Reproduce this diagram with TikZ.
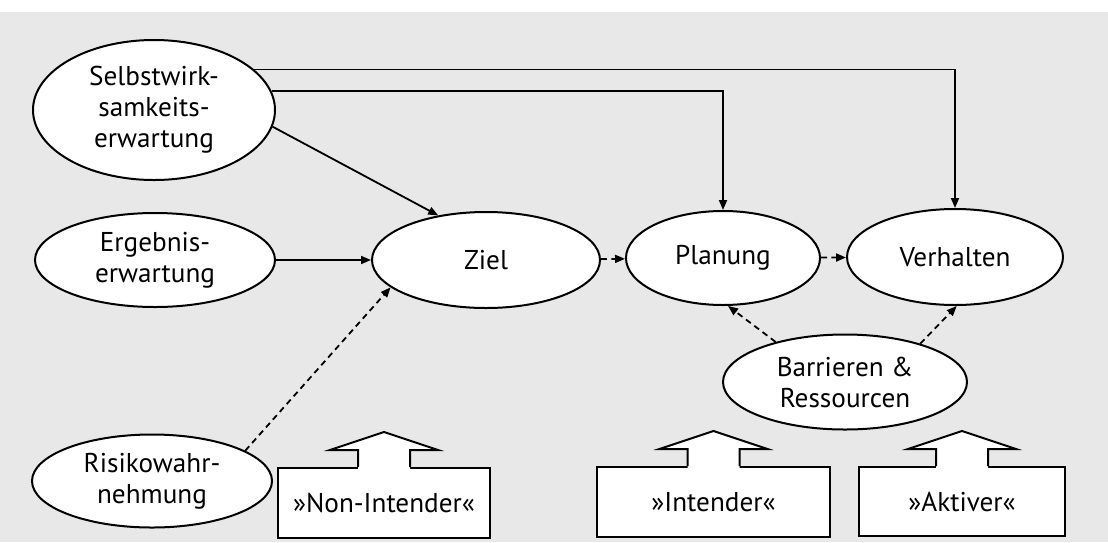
\documentclass[tikz,border=0pt]{standalone}
\usepackage{fontspec}
\setmainfont{PT Sans}
\usetikzlibrary{arrows.meta, calc, positioning, shapes.geometric}

\tikzset{
  oval/.style={draw, ellipse, fill=white, line width=1pt, inner sep=0pt,
               align=center, font=\fontsize{13.6}{15.5}\selectfont},
  typebox/.style={draw, rectangle, fill=white, line width=1pt, inner sep=0pt,
                  font=\fontsize{13.6}{15.5}\selectfont},
  arr/.style={line width=0.9pt, -{Triangle[length=5pt, width=4pt]}},
  dasharr/.style={arr, dash pattern=on 3pt off 2.2pt},
}

\begin{document}
\begin{tikzpicture}[x=0.5pt, y=-0.5pt]
    \useasboundingbox (0, 0) rectangle (1108, 542);
    \fill[white] (0, 0) rectangle (1108, 542);
    \fill[black!9] (0, 12) rectangle (1108, 542);

    % determinants
    \node[oval, minimum width=121pt, minimum height=70pt] (selbst) at (154, 110) {Selbstwirk-\\samkeits-\\erwartung};
    \node[oval, minimum width=120pt, minimum height=47pt] (ergebnis) at (155, 260) {Ergebnis-\\erwartung};
    \node[oval, minimum width=120pt, minimum height=46.5pt] (risiko) at (152, 481) {Risikowahr-\\nehmung};

    % stages
    \node[oval, minimum width=114pt, minimum height=48pt] (ziel) at (486, 260) {Ziel};
    \node[oval, minimum width=97pt, minimum height=47pt] (planung) at (723, 258) {Planung};
    \node[oval, minimum width=108pt, minimum height=48pt] (verhalten) at (955, 257) {Verhalten};
    \node[oval, minimum width=122pt, minimum height=47.5pt] (barrieren) at (845, 382) {Barrieren \&\\Ressourcen};

    % groups
    \node[typebox, minimum width=106pt, minimum height=35pt] (nonint) at (384, 503) {»Non-Intender«};
    \node[typebox, minimum width=116.5pt, minimum height=35pt] (intender) at (713.5, 502) {»Intender«};
    \node[typebox, minimum width=103pt, minimum height=34.5pt] (aktiver) at (962, 501.5) {»Aktiver«};

    \foreach \b in {nonint, intender, aktiver} {
        \fill[white] ($(\b.north)+(-26, 2)$) -- ++(0, -19) -- ++(-28, 0) -- ($(\b.north)+(0, -35)$)
            -- ($(\b.north)+(54, -17)$) -- ++(-28, 0) -- ++(0, 19) -- cycle;
        \draw[line width=1pt, line join=miter] ($(\b.north)+(-26, 0)$) -- ++(0, -17) -- ++(-28, 0) -- ($(\b.north)+(0, -35)$)
            -- ($(\b.north)+(54, -17)$) -- ++(-28, 0) -- ++(0, 17);
    }

    \draw[arr] (selbst.22) -| (verhalten.north);
    \draw[arr] (selbst.9) -| (planung.north);
    \draw[arr] (selbst.-8) -- (ziel.137);
    \draw[arr] (ergebnis) -- (ziel);
    \draw[dasharr] (risiko.18) -- (ziel.196);
    \draw[dasharr] (ziel) -- (planung);
    \draw[dasharr] (planung) -- (verhalten);
    \draw[dasharr] (barrieren.150) -- (planung.-84);
    \draw[dasharr] (barrieren.27) -- (verhalten.-88);
\end{tikzpicture}
\end{document}
